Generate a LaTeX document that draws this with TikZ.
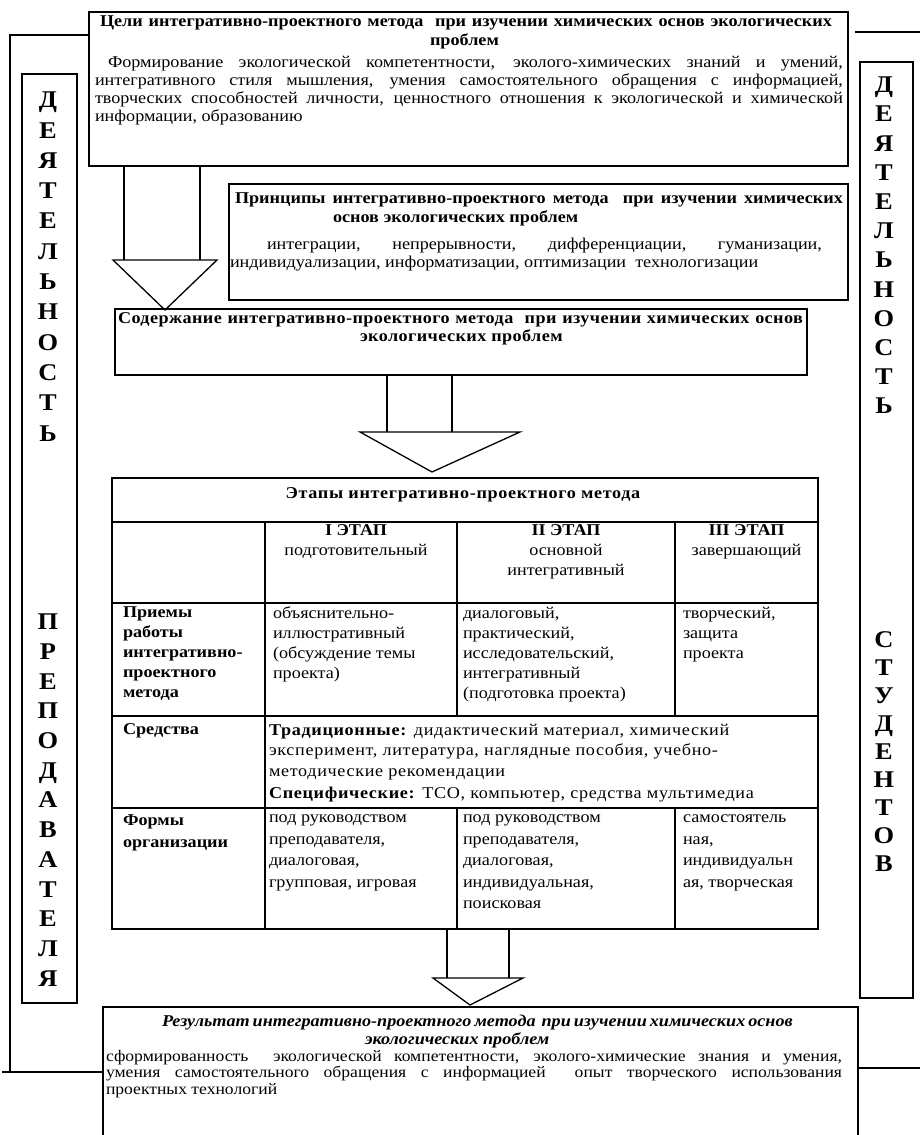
\documentclass[tikz,border=0pt]{standalone}
\usepackage{fontspec}
\setmainfont{Liberation Serif}[FakeStretch=1.1]
\usetikzlibrary{calc}
\newcommand{\jline}[2]{\makebox[#1][s]{#2}}
\begin{document}
\begin{tikzpicture}[x=1pt,y=-1pt,
  frame/.style={draw, line width=1.3pt, anchor=north west, inner sep=0pt, outer sep=0pt},
  ln/.style={line width=1.3pt},
  body/.style={inner sep=0pt, outer sep=0pt, anchor=north west, align=left, font=\fontsize{16.5}{18}\selectfont},
  ttl/.style={inner sep=0pt, outer sep=0pt, anchor=north west, align=left, font=\fontsize{16.5}{18.5}\selectfont\bfseries},
  cell/.style={inner sep=0pt, outer sep=0pt, anchor=north west, align=left, font=\fontsize{16.5}{20}\selectfont},
  stage/.style={inner sep=0pt, outer sep=0pt, anchor=north, align=center, font=\fontsize{16.5}{20}\selectfont},
  vword/.style={inner sep=0pt, outer sep=0pt, anchor=north, align=center},
]
\useasboundingbox (0,0) rectangle (920,1135);
\fill[white] (0,0) rectangle (920,1135);

% ---------- goals box ----------
\node[frame, minimum width=759pt, minimum height=154pt] (goals) at (89,12) {};
\node[ttl] (goalsT) at ($(goals.north west)+(11,4)$) {\jline{732pt}{Цели интегративно-проектного метода\ \ при изучении химических основ экологических}\\\hspace*{330pt}проблем};
\node[body] (goalsB) at ($(goals.north west)+(6,44)$) {%
\hspace*{13pt}\jline{735pt}{Формирование экологической компетентности, эколого-химических знаний и умений,}\\
\jline{748pt}{интегративного стиля мышления, умения самостоятельного обращения с информацией,}\\
\jline{748pt}{творческих способностей личности, ценностного отношения к экологической и химической}\\
информации, образованию};

% ---------- side columns ----------
\node[frame, minimum width=55pt, minimum height=929pt] (lcol) at (22,74) {};
\node[frame, minimum width=53pt, minimum height=936pt] (rcol) at (860,62) {};
\node[vword, font=\fontsize{24}{30.3}\selectfont\bfseries] (lw1) at (48,92) {Д\\Е\\Я\\Т\\Е\\Л\\Ь\\Н\\О\\С\\Т\\Ь};
\node[vword, font=\fontsize{24}{29.7}\selectfont\bfseries] (lw2) at (48,614) {П\\Р\\Е\\П\\О\\Д\\А\\В\\А\\Т\\Е\\Л\\Я};
\node[vword, font=\fontsize{24}{29.2}\selectfont\bfseries] (rw1) at (884,77) {Д\\Е\\Я\\Т\\Е\\Л\\Ь\\Н\\О\\С\\Т\\Ь};
\node[vword, font=\fontsize{24}{28}\selectfont\bfseries] (rw2) at (884,632) {С\\Т\\У\\Д\\Е\\Н\\Т\\О\\В};

% ---------- principles box ----------
\node[frame, minimum width=619pt, minimum height=116pt] (princ) at (229,184) {};
\node[ttl] (princT) at ($(princ.north west)+(6,9)$) {\jline{608pt}{Принципы интегративно-проектного метода\ \ при изучении химических}\\\hspace*{98pt}основ экологических проблем};
\node[body] (princB) at ($(princ.north west)+(1,54)$) {%
\hspace*{37pt}\jline{555pt}{интеграции, непрерывности, дифференциации, гуманизации,}\\
индивидуализации, информатизации, оптимизации\ \ технологизации};

% ---------- content box ----------
\node[frame, minimum width=692pt, minimum height=66pt] (cont) at (115,309) {};
\node[ttl, font=\fontsize{16.5}{17.5}\selectfont\bfseries\addfontfeatures{LetterSpace=2.5}] (contT) at ($(cont.north west)+(3,4)$) {\jline{685pt}{Содержание интегративно-проектного метода\ \ при изучении химических основ}\\\hspace*{242pt}экологических проблем};

% ---------- table ----------
\node[frame, minimum width=706pt, minimum height=44pt] (thead) at (112,478) {};
\node[ttl, anchor=north, font=\fontsize{16.5}{18.5}\selectfont\bfseries\addfontfeatures{LetterSpace=4}] (theadT) at ($(thead.north)+(-2,10)$) {Этапы интегративно-проектного метода};

\node[frame, minimum width=153pt, minimum height=81pt] (c10) at (112,522) {};
\node[frame, minimum width=192pt, minimum height=81pt] (c11) at (265,522) {};
\node[frame, minimum width=218pt, minimum height=81pt] (c12) at (457,522) {};
\node[frame, minimum width=143pt, minimum height=81pt] (c13) at (675,522) {};
\node[stage] (c11T) at ($(c11.north)+(-5,3)$) {\textbf{I ЭТАП}\\подготовительный};
\node[stage] (c12T) at ($(c12.north)+(0,3)$) {\textbf{II ЭТАП}\\основной\\интегративный};
\node[stage] (c13T) at ($(c13.north)+(0,3)$) {\textbf{III ЭТАП}\\завершающий};

\node[frame, minimum width=153pt, minimum height=113pt] (c20) at (112,603) {};
\node[frame, minimum width=192pt, minimum height=113pt] (c21) at (265,603) {};
\node[frame, minimum width=218pt, minimum height=113pt] (c22) at (457,603) {};
\node[frame, minimum width=143pt, minimum height=113pt] (c23) at (675,603) {};
\node[cell, font=\fontsize{16.5}{20}\selectfont\bfseries] (c20T) at ($(c20.north west)+(11,4)$) {Приемы\\работы\\интегративно-\\проектного\\метода};
\node[cell] (c21T) at ($(c21.north west)+(8,4)$) {объяснительно-\\иллюстративный\\(обсуждение темы\\проекта)};
\node[cell] (c22T) at ($(c22.north west)+(6,4)$) {диалоговый,\\практический,\\исследовательский,\\интегративный\\(подготовка проекта)};
\node[cell] (c23T) at ($(c23.north west)+(8,4)$) {творческий,\\защита\\проекта};

\node[frame, minimum width=153pt, minimum height=92pt] (c30) at (112,716) {};
\node[frame, minimum width=553pt, minimum height=92pt] (c31) at (265,716) {};
\node[cell, font=\fontsize{16.5}{20}\selectfont\bfseries] (c30T) at ($(c30.north west)+(11,8)$) {Средства};
\node[cell, font=\fontsize{16.5}{20.5}\selectfont\addfontfeatures{LetterSpace=4}] (c31T) at ($(c31.north west)+(4,8)$) {\textbf{Традиционные:} дидактический материал, химический\\эксперимент, литература, наглядные пособия, учебно-\\методические рекомендации\\[2pt]\textbf{Специфические:} ТСО, компьютер, средства мультимедиа};

\node[frame, minimum width=153pt, minimum height=121pt] (c40) at (112,808) {};
\node[frame, minimum width=192pt, minimum height=121pt] (c41) at (265,808) {};
\node[frame, minimum width=218pt, minimum height=121pt] (c42) at (457,808) {};
\node[frame, minimum width=143pt, minimum height=121pt] (c43) at (675,808) {};
\node[cell, font=\fontsize{16.5}{21.5}\selectfont\bfseries] (c40T) at ($(c40.north west)+(11,7)$) {Формы\\организации};
\node[cell, font=\fontsize{16.5}{21.5}\selectfont] (c41T) at ($(c41.north west)+(4,7)$) {под руководством\\преподавателя,\\диалоговая,\\групповая, игровая};
\node[cell, font=\fontsize{16.5}{21.5}\selectfont] (c42T) at ($(c42.north west)+(6,7)$) {под руководством\\преподавателя,\\диалоговая,\\индивидуальная,\\поисковая};
\node[cell, font=\fontsize{16.5}{21.5}\selectfont] (c43T) at ($(c43.north west)+(8,7)$) {самостоятель\\ная,\\индивидуальн\\ая, творческая};

% ---------- result box ----------
\node[frame, minimum width=755pt, minimum height=145pt] (result) at (103,1007) {};
\node[ttl, font=\fontsize{16.5}{18}\selectfont\bfseries\itshape] (resT) at ($(result.north west)+(59,8)$) {\jline{628pt}{Результат интегративно-проектного метода\ \ при изучении химических основ}\\\hspace*{203pt}экологических проблем};
\node[body, font=\fontsize{16}{16.5}\selectfont] (resB) at ($(result.north west)+(3,43)$) {%
\jline{736pt}{сформированность\ \ экологической компетентности, эколого-химические знания и умения,}\\
\jline{736pt}{умения самостоятельного обращения с информацией\ \ опыт творческого использования}\\
проектных технологий};

% ---------- arrows ----------
\coordinate (a1sl) at (124,260); \coordinate (a1sr) at (200,260);
\coordinate (a1hl) at (113,260); \coordinate (a1hr) at (217,260);
\coordinate (a1tip) at (165,310);
\draw[ln] (goals.south -| a1sl) -- (a1sl);
\draw[ln] (goals.south -| a1sr) -- (a1sr);
\draw[ln, line join=miter] (a1hl) -- (a1hr) -- (a1tip) -- cycle;

\coordinate (a2sl) at (387,432); \coordinate (a2sr) at (452,432);
\coordinate (a2hl) at (360,432); \coordinate (a2hr) at (520,432);
\coordinate (a2tip) at (432,472);
\draw[ln] (cont.south -| a2sl) -- (a2sl);
\draw[ln] (cont.south -| a2sr) -- (a2sr);
\draw[ln, line join=miter] (a2hl) -- (a2hr) -- (a2tip) -- cycle;

\coordinate (a3sl) at (447,978); \coordinate (a3sr) at (509,978);
\coordinate (a3hl) at (433,978); \coordinate (a3hr) at (523,978);
\coordinate (a3tip) at (470,1005);
\draw[ln] (c42.south -| a3sl) -- (a3sl);
\draw[ln] (c42.south -| a3sr) -- (a3sr);
\draw[ln, line join=miter] (a3hl) -- (a3hr) -- (a3tip) -- cycle;

% ---------- outer brackets ----------
\coordinate (lbTop) at (10,35); \coordinate (lbBot) at (10,1072);
\coordinate (lbEnd) at (2,1072);
\draw[ln] (goals.west |- lbTop) -- (lbTop) -- (lbBot);
\draw[ln] (lbEnd) -- (result.west |- lbEnd);
\coordinate (rsT) at (855,32); \coordinate (rsB) at (858,1068);
\draw[ln] (rsT) -- ++(66,0);
\draw[ln] (rsB) -- ++(63,0);
\end{tikzpicture}
\end{document}
